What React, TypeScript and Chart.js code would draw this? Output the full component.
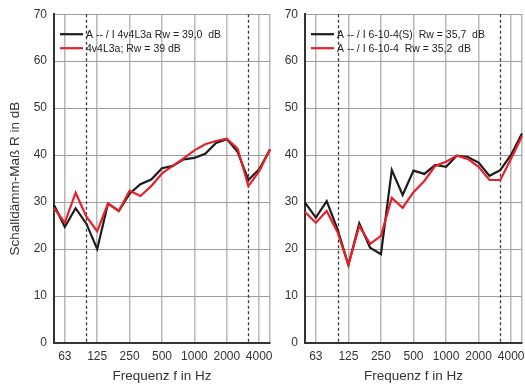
import React, { useEffect, useRef } from "react";
import { Chart, registerables } from "chart.js";

Chart.register(...registerables);

const bands = ["50", "63", "80", "100", "125", "160", "200", "250", "315", "400", "500", "630", "800", "1000", "1250", "1600", "2000", "2500", "3150", "4000", "5000"];
const octaveLabels = ["63", "125", "250", "500", "1000", "2000", "4000"];
const dashedBands = ["100", "3150"];
const yMin = 0;
const yMax = 70;
const yStep = 10;

const leftBlack = [29.4, 24.7, 28.7, 25.4, 20.0, 29.7, 28.1, 31.8, 33.8, 34.8, 37.2, 37.7, 39.1, 39.4, 40.3, 42.6, 43.4, 40.7, 34.7, 37.0, 41.2];
const leftRed = [28.7, 25.6, 32.0, 26.9, 23.8, 29.7, 28.1, 32.4, 31.3, 33.4, 36.1, 37.7, 39.3, 41.0, 42.3, 43.0, 43.5, 41.4, 33.4, 36.6, 41.2];
const rightBlack = [29.9, 26.7, 30.2, 24.2, 16.6, 25.5, 20.3, 18.9, 36.8, 31.5, 36.7, 36.0, 37.9, 37.5, 39.9, 39.6, 38.4, 35.6, 36.8, 40.1, 44.6];
const rightRed = [27.9, 25.6, 28.1, 23.6, 16.6, 24.9, 21.1, 22.8, 30.9, 28.8, 32.1, 34.5, 37.7, 38.6, 39.9, 39.2, 37.5, 34.7, 34.7, 39.3, 44.0];

const leftLabels = ["A -- / I 4v4L3a Rw = 39,0  dB", "4v4L3a; Rw = 39 dB"];
const rightLabels = ["A -- / I 6-10-4(S)  Rw = 35,7  dB", "A -- / I 6-10-4  Rw = 35,2  dB"];

const xTitle = "Frequenz f in Hz";
const yTitle = "Schalldämm-Maß R in dB";

const FONT = "'Liberation Sans', Arial, sans-serif";
const BLACK = "#1c1c1c";
const RED = "#e8202a";
const TEXT = "#333333";

function makeOverlay(labels: string[], colors: string[]) {
  return {
    id: "overlay",
    beforeDatasetsDraw(chart: any) {
      const { ctx, chartArea, scales } = chart;
      ctx.save();
      ctx.strokeStyle = "#3a3a3a";
      ctx.lineWidth = 1.3;
      ctx.setLineDash([3, 2.5]);
      dashedBands.forEach((b) => {
        const x = Math.round(scales.x.getPixelForValue(bands.indexOf(b))) + 0.5;
        ctx.beginPath();
        ctx.moveTo(x, chartArea.top);
        ctx.lineTo(x, chartArea.bottom);
        ctx.stroke();
      });
      ctx.restore();
    },
    afterDraw(chart: any) {
      const { ctx, chartArea } = chart;
      ctx.save();
      ctx.font = `10.5px ${FONT}`;
      ctx.textBaseline = "middle";
      ctx.textAlign = "left";
      labels.forEach((lbl, i) => {
        const y = chartArea.top + 20 + i * 14;
        ctx.strokeStyle = colors[i];
        ctx.lineWidth = 2.2;
        ctx.setLineDash([]);
        ctx.beginPath();
        ctx.moveTo(chartArea.left + 6, y);
        ctx.lineTo(chartArea.left + 29, y);
        ctx.stroke();
        ctx.fillStyle = "#222";
        ctx.fillText(lbl, chartArea.left + 32, y + 0.5);
      });
      ctx.restore();
    },
  };
}

function makeConfig(black: number[], red: number[], labels: string[], showYTitle: boolean, yWidth: number): any {
  return {
    type: "line",
    data: {
      labels: bands,
      datasets: [
        { label: labels[0], data: black, borderColor: BLACK, borderWidth: 2.2, pointRadius: 0, tension: 0, order: 2, fill: false },
        { label: labels[1], data: red, borderColor: RED, borderWidth: 2.2, pointRadius: 0, tension: 0, order: 1, fill: false },
      ],
    },
    options: {
      responsive: false,
      animation: false,
      layout: { padding: { top: 14, right: 2, left: 0, bottom: 0 } },
      plugins: { legend: { display: false }, tooltip: { enabled: false }, title: { display: false } },
      scales: {
        x: {
          type: "category",
          offset: false,
          afterFit: (s: any) => { s.height = 42; },
          grid: {
            drawTicks: false,
            lineWidth: 1.5,
            color: (c: any) => {
              const lbl = bands[c.index];
              return octaveLabels.includes(lbl) || c.index === bands.length - 1 ? "#b8b8b8" : "rgba(0,0,0,0)";
            },
          },
          border: { color: "#333", width: 2 },
          ticks: {
            autoSkip: false,
            maxRotation: 0,
            padding: 6,
            color: TEXT,
            font: { family: FONT, size: 12 },
            callback: (_v: any, idx: number) => (octaveLabels.includes(bands[idx]) ? bands[idx] : ""),
          },
          title: { display: true, text: xTitle, color: TEXT, font: { family: FONT, size: 13.5 }, padding: { top: 0, bottom: 1 } },
        },
        y: {
          min: yMin,
          max: yMax,
          afterFit: (s: any) => { s.width = yWidth; },
          grid: { drawTicks: false, lineWidth: 1, color: "#9c9c9c" },
          border: { color: "#333", width: 2 },
          ticks: { stepSize: yStep, padding: 7, color: TEXT, font: { family: FONT, size: 12 } },
          title: { display: showYTitle, text: yTitle, color: TEXT, font: { family: FONT, size: 13.5 }, padding: { top: 7, bottom: 0 } },
        },
      },
    },
    plugins: [makeOverlay(labels, [BLACK, RED])],
  };
}

function ChartCanvas(props: { left: number; width: number; config: () => any }) {
  const ref = useRef<HTMLCanvasElement | null>(null);
  useEffect(() => {
    if (!ref.current) return;
    const chart = new Chart(ref.current, props.config());
    return () => chart.destroy();
  }, []);
  return (
    <canvas
      ref={ref}
      width={props.width}
      height={385}
      style={{ position: "absolute", left: props.left, top: 0, width: props.width, height: 385 }}
    />
  );
}

export default function App() {
  return (
    <div style={{ position: "absolute", left: 0, top: 0, width: 525, height: 385, overflow: "hidden", background: "#fff" }}>
      <ChartCanvas left={0} width={276} config={() => makeConfig(leftBlack, leftRed, leftLabels, true, 54)} />
      <ChartCanvas left={270} width={258} config={() => makeConfig(rightBlack, rightRed, rightLabels, false, 35)} />
    </div>
  );
}
